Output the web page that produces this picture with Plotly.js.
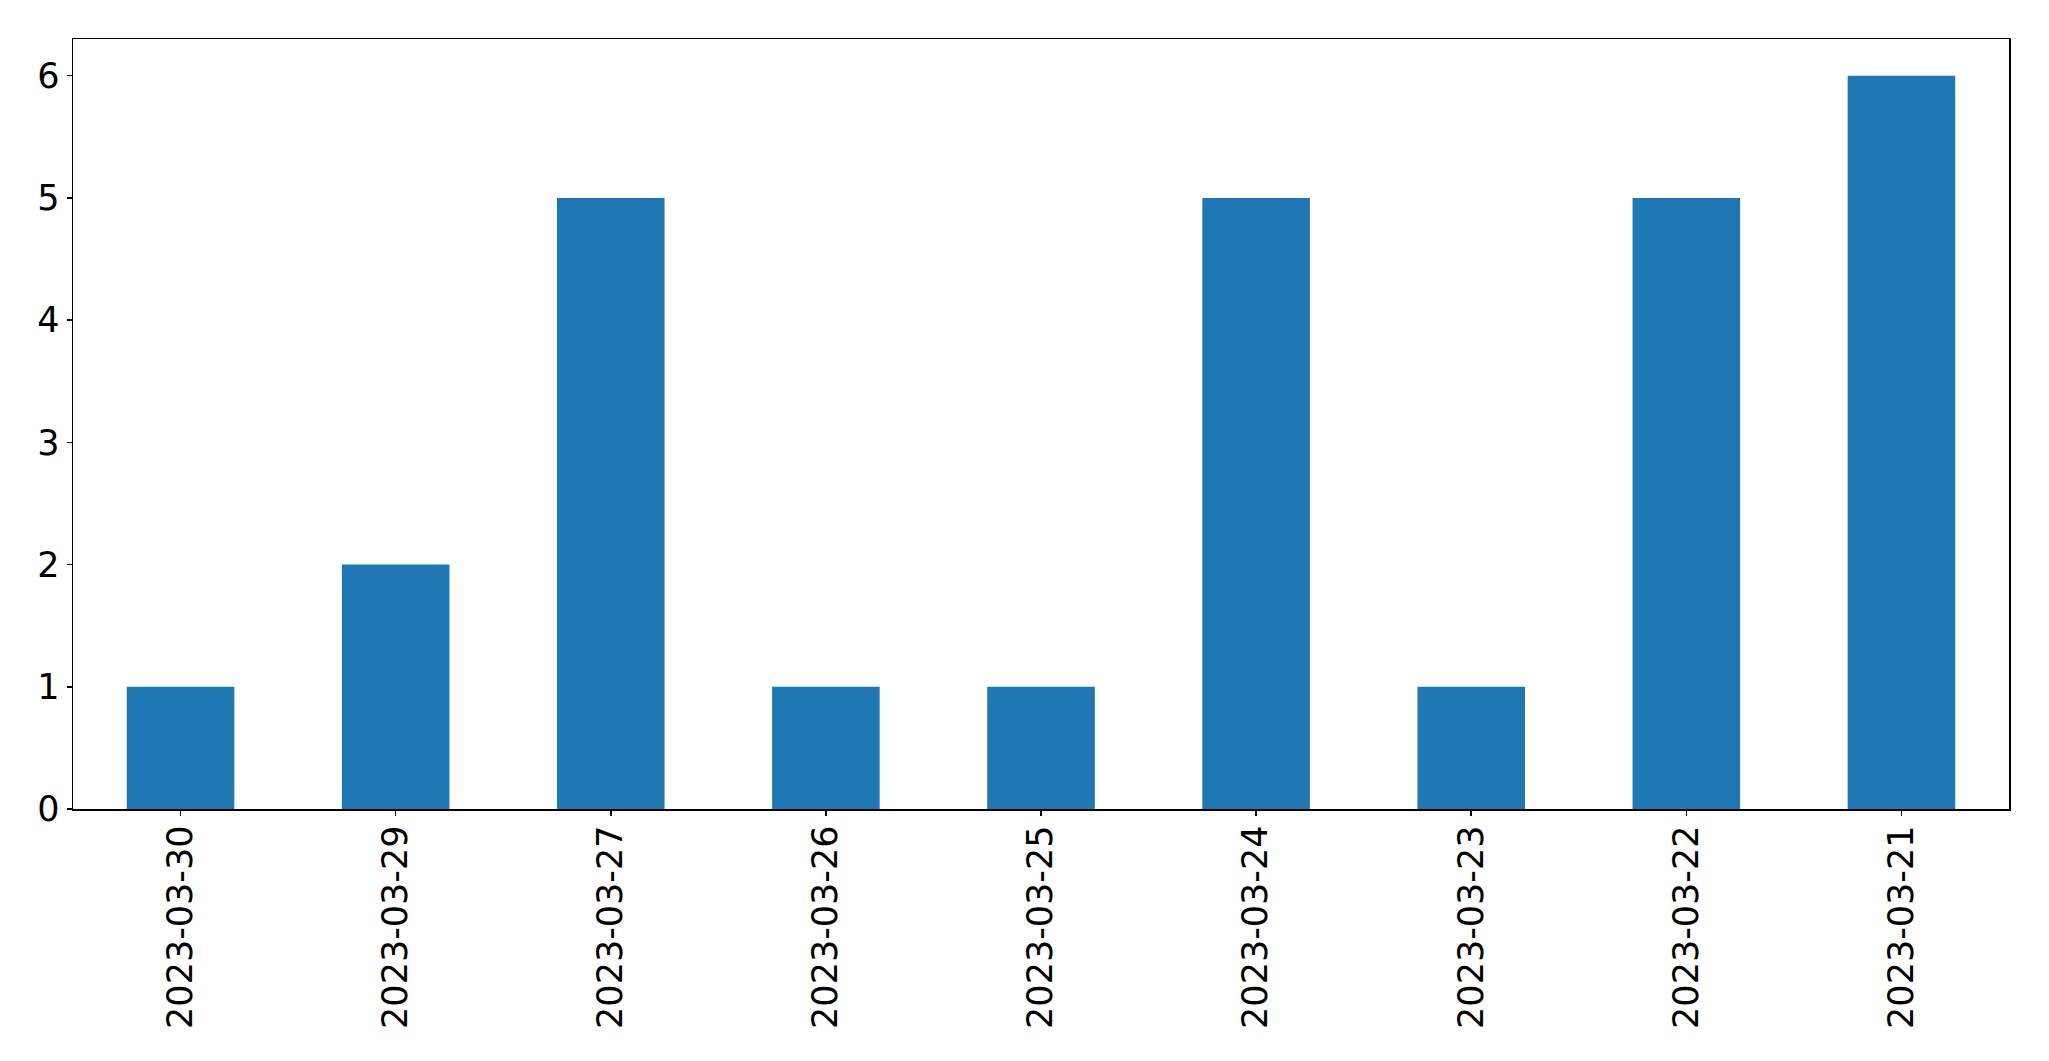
<!DOCTYPE html>
<html>
<head>
<meta charset="utf-8">
<script src="https://cdn.plot.ly/plotly-3.0.1.min.js"></script>
<style>html,body{margin:0;padding:0;background:#fff;}#chart{width:2049px;height:1061px;}</style>
</head>
<body>
<div id="chart"></div>
<script>
const categories = ["2023-03-30","2023-03-29","2023-03-27","2023-03-26","2023-03-25","2023-03-24","2023-03-23","2023-03-22","2023-03-21"];
const counts = [1, 2, 5, 1, 1, 5, 1, 5, 6];
const yTicks = [0, 1, 2, 3, 4, 5, 6];

const trace = {
  type: 'bar',
  x: categories,
  y: counts,
  width: 0.5,
  marker: {color: '#1f77b4', line: {width: 0}},
  hoverinfo: 'x+y'
};

const axisCommon = {
  showline: true, mirror: true, linecolor: '#000', linewidth: 1.5,
  ticks: 'outside', ticklen: 5, tickwidth: 1.5, tickcolor: '#000',
  showgrid: false, zeroline: false,
  tickfont: {family: 'DejaVu Sans', size: 35, color: '#000'}
};

const layout = {
  width: 2049, height: 1061,
  margin: {l: 72.5, r: 40, t: 39.3, b: 252},
  paper_bgcolor: '#fff', plot_bgcolor: '#fff',
  showlegend: false,
  xaxis: Object.assign({}, axisCommon, {
    type: 'category', range: [-0.5, 8.5], tickangle: -90, ticklabelstandoff: -4
  }),
  yaxis: Object.assign({}, axisCommon, {
    range: [0, 6.3], tickvals: yTicks, ticktext: yTicks.map(String), ticklabelstandoff: 0
  })
};

Plotly.newPlot('chart', [trace], layout, {displayModeBar: false, staticPlot: true});
</script>
</body>
</html>
